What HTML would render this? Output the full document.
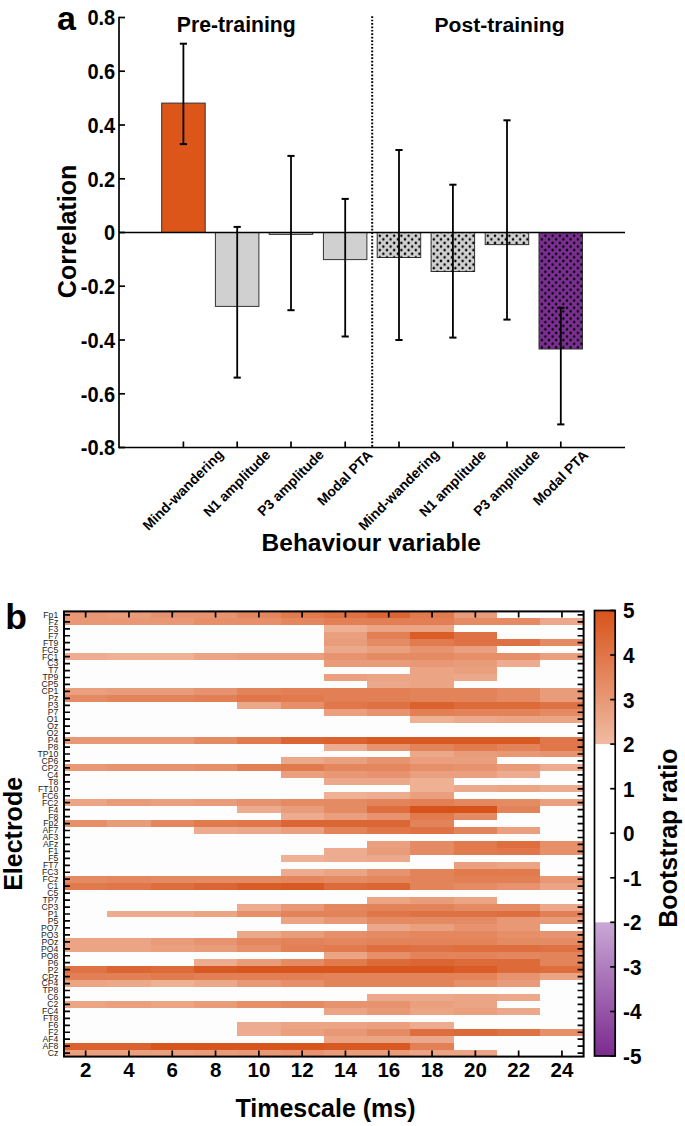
<!DOCTYPE html><html><head><meta charset="utf-8"><style>html,body{margin:0;padding:0;background:#fff;}svg{display:block;}</style></head><body><svg width="685" height="1126" viewBox="0 0 685 1126" font-family="'Liberation Sans', sans-serif">
<rect width="685" height="1126" fill="#ffffff"/>
<defs>
<pattern id="dots" patternUnits="userSpaceOnUse" width="7.2" height="7.2" x="0" y="0">
<circle cx="1.8" cy="1.8" r="1.25" fill="#000"/><circle cx="5.4" cy="5.4" r="1.25" fill="#000"/>
</pattern>
<linearGradient id="gO" x1="0" y1="1" x2="0" y2="0"><stop offset="0" stop-color="#f0bba2"/><stop offset="1" stop-color="#d8531b"/></linearGradient>
<linearGradient id="gP" x1="0" y1="0" x2="0" y2="1"><stop offset="0" stop-color="#c9a8d5"/><stop offset="1" stop-color="#7b2b8f"/></linearGradient>
</defs>
<rect x="161.7" y="103.1" width="43.5" height="129.4" fill="#dc5519" stroke="#333" stroke-width="1"/>
<rect x="215.4" y="232.5" width="43.5" height="73.9" fill="#d0d0d0" stroke="#333" stroke-width="1"/>
<rect x="269.2" y="232.5" width="43.5" height="1.9" fill="#d0d0d0" stroke="#333" stroke-width="1"/>
<rect x="323.4" y="232.5" width="43.5" height="27.1" fill="#d0d0d0" stroke="#333" stroke-width="1"/>
<rect x="377.2" y="232.5" width="43.5" height="25.0" fill="#d0d0d0" stroke="#333" stroke-width="1"/>
<rect x="377.2" y="232.5" width="43.5" height="25.0" fill="url(#dots)"/>
<rect x="431.1" y="232.5" width="43.5" height="39.0" fill="#d0d0d0" stroke="#333" stroke-width="1"/>
<rect x="431.1" y="232.5" width="43.5" height="39.0" fill="url(#dots)"/>
<rect x="485.2" y="232.5" width="43.5" height="12.1" fill="#d0d0d0" stroke="#333" stroke-width="1"/>
<rect x="485.2" y="232.5" width="43.5" height="12.1" fill="url(#dots)"/>
<rect x="539.0" y="232.5" width="43.5" height="116.5" fill="#7b2f92" stroke="#333" stroke-width="1"/>
<rect x="539.0" y="232.5" width="43.5" height="116.5" fill="url(#dots)"/>
<line x1="183.4" y1="43.7" x2="183.4" y2="144.1" stroke="#000" stroke-width="1.8"/>
<line x1="179.8" y1="43.7" x2="187.0" y2="43.7" stroke="#000" stroke-width="2"/>
<line x1="179.8" y1="144.1" x2="187.0" y2="144.1" stroke="#000" stroke-width="2"/>
<line x1="237.2" y1="226.9" x2="237.2" y2="377.6" stroke="#000" stroke-width="1.8"/>
<line x1="233.6" y1="226.9" x2="240.79999999999998" y2="226.9" stroke="#000" stroke-width="2"/>
<line x1="233.6" y1="377.6" x2="240.79999999999998" y2="377.6" stroke="#000" stroke-width="2"/>
<line x1="291.0" y1="155.9" x2="291.0" y2="310.2" stroke="#000" stroke-width="1.8"/>
<line x1="287.4" y1="155.9" x2="294.6" y2="155.9" stroke="#000" stroke-width="2"/>
<line x1="287.4" y1="310.2" x2="294.6" y2="310.2" stroke="#000" stroke-width="2"/>
<line x1="345.2" y1="198.9" x2="345.2" y2="336.5" stroke="#000" stroke-width="1.8"/>
<line x1="341.59999999999997" y1="198.9" x2="348.8" y2="198.9" stroke="#000" stroke-width="2"/>
<line x1="341.59999999999997" y1="336.5" x2="348.8" y2="336.5" stroke="#000" stroke-width="2"/>
<line x1="399.0" y1="150.0" x2="399.0" y2="340.0" stroke="#000" stroke-width="1.8"/>
<line x1="395.4" y1="150.0" x2="402.6" y2="150.0" stroke="#000" stroke-width="2"/>
<line x1="395.4" y1="340.0" x2="402.6" y2="340.0" stroke="#000" stroke-width="2"/>
<line x1="452.9" y1="184.7" x2="452.9" y2="337.6" stroke="#000" stroke-width="1.8"/>
<line x1="449.29999999999995" y1="184.7" x2="456.5" y2="184.7" stroke="#000" stroke-width="2"/>
<line x1="449.29999999999995" y1="337.6" x2="456.5" y2="337.6" stroke="#000" stroke-width="2"/>
<line x1="507.0" y1="120.3" x2="507.0" y2="319.6" stroke="#000" stroke-width="1.8"/>
<line x1="503.4" y1="120.3" x2="510.6" y2="120.3" stroke="#000" stroke-width="2"/>
<line x1="503.4" y1="319.6" x2="510.6" y2="319.6" stroke="#000" stroke-width="2"/>
<line x1="560.8" y1="307.8" x2="560.8" y2="424.4" stroke="#000" stroke-width="1.8"/>
<line x1="557.1999999999999" y1="307.8" x2="564.4" y2="307.8" stroke="#000" stroke-width="2"/>
<line x1="557.1999999999999" y1="424.4" x2="564.4" y2="424.4" stroke="#000" stroke-width="2"/>
<line x1="119.0" y1="16.7" x2="119.0" y2="448.3" stroke="#000" stroke-width="1.7"/>
<line x1="119.0" y1="17.5" x2="125.0" y2="17.5" stroke="#000" stroke-width="1.7"/>
<text transform="translate(115.2,25.3) scale(0.91,1)" font-size="22" font-weight="bold" text-anchor="end">0.8</text>
<line x1="119.0" y1="71.2" x2="125.0" y2="71.2" stroke="#000" stroke-width="1.7"/>
<text transform="translate(115.2,79.0) scale(0.91,1)" font-size="22" font-weight="bold" text-anchor="end">0.6</text>
<line x1="119.0" y1="125.0" x2="125.0" y2="125.0" stroke="#000" stroke-width="1.7"/>
<text transform="translate(115.2,132.8) scale(0.91,1)" font-size="22" font-weight="bold" text-anchor="end">0.4</text>
<line x1="119.0" y1="178.8" x2="125.0" y2="178.8" stroke="#000" stroke-width="1.7"/>
<text transform="translate(115.2,186.6) scale(0.91,1)" font-size="22" font-weight="bold" text-anchor="end">0.2</text>
<line x1="119.0" y1="232.5" x2="125.0" y2="232.5" stroke="#000" stroke-width="1.7"/>
<text transform="translate(115.2,240.3) scale(0.91,1)" font-size="22" font-weight="bold" text-anchor="end">0</text>
<line x1="119.0" y1="286.2" x2="125.0" y2="286.2" stroke="#000" stroke-width="1.7"/>
<text transform="translate(115.2,294.1) scale(0.91,1)" font-size="22" font-weight="bold" text-anchor="end">-0.2</text>
<line x1="119.0" y1="340.0" x2="125.0" y2="340.0" stroke="#000" stroke-width="1.7"/>
<text transform="translate(115.2,347.8) scale(0.91,1)" font-size="22" font-weight="bold" text-anchor="end">-0.4</text>
<line x1="119.0" y1="393.8" x2="125.0" y2="393.8" stroke="#000" stroke-width="1.7"/>
<text transform="translate(115.2,401.6) scale(0.91,1)" font-size="22" font-weight="bold" text-anchor="end">-0.6</text>
<line x1="119.0" y1="447.5" x2="125.0" y2="447.5" stroke="#000" stroke-width="1.7"/>
<text transform="translate(115.2,455.3) scale(0.91,1)" font-size="22" font-weight="bold" text-anchor="end">-0.8</text>
<line x1="119.0" y1="232.5" x2="625.0" y2="232.5" stroke="#000" stroke-width="1.7"/>
<line x1="119.0" y1="447.5" x2="625.0" y2="447.5" stroke="#000" stroke-width="1.7"/>
<line x1="183.4" y1="447.5" x2="183.4" y2="441.5" stroke="#000" stroke-width="1.7"/>
<line x1="237.2" y1="447.5" x2="237.2" y2="441.5" stroke="#000" stroke-width="1.7"/>
<line x1="291.0" y1="447.5" x2="291.0" y2="441.5" stroke="#000" stroke-width="1.7"/>
<line x1="345.2" y1="447.5" x2="345.2" y2="441.5" stroke="#000" stroke-width="1.7"/>
<line x1="399.0" y1="447.5" x2="399.0" y2="441.5" stroke="#000" stroke-width="1.7"/>
<line x1="452.9" y1="447.5" x2="452.9" y2="441.5" stroke="#000" stroke-width="1.7"/>
<line x1="507.0" y1="447.5" x2="507.0" y2="441.5" stroke="#000" stroke-width="1.7"/>
<line x1="560.8" y1="447.5" x2="560.8" y2="441.5" stroke="#000" stroke-width="1.7"/>
<line x1="372.2" y1="16.2" x2="372.2" y2="447.5" stroke="#000" stroke-width="2" stroke-dasharray="1.7 1.73"/>
<text transform="translate(182.9,489.7) rotate(-45)" font-size="14" font-weight="bold" text-anchor="middle" dy="0.36em">Mind-wandering</text>
<text transform="translate(236.7,483.2) rotate(-45)" font-size="14" font-weight="bold" text-anchor="middle" dy="0.36em">N1 amplitude</text>
<text transform="translate(290.5,482.7) rotate(-45)" font-size="14" font-weight="bold" text-anchor="middle" dy="0.36em">P3 amplitude</text>
<text transform="translate(344.7,477.7) rotate(-45)" font-size="14" font-weight="bold" text-anchor="middle" dy="0.36em">Modal PTA</text>
<text transform="translate(398.5,489.7) rotate(-45)" font-size="14" font-weight="bold" text-anchor="middle" dy="0.36em">Mind-wandering</text>
<text transform="translate(452.4,483.2) rotate(-45)" font-size="14" font-weight="bold" text-anchor="middle" dy="0.36em">N1 amplitude</text>
<text transform="translate(506.5,482.7) rotate(-45)" font-size="14" font-weight="bold" text-anchor="middle" dy="0.36em">P3 amplitude</text>
<text transform="translate(560.3,477.7) rotate(-45)" font-size="14" font-weight="bold" text-anchor="middle" dy="0.36em">Modal PTA</text>
<text x="57" y="30" font-size="34" font-weight="bold">a</text>
<text x="236.3" y="32.3" font-size="21.2" font-weight="bold" text-anchor="middle">Pre-training</text>
<text x="499.5" y="32.3" font-size="21.1" font-weight="bold" text-anchor="middle">Post-training</text>
<text transform="translate(76.4,231.5) rotate(-90)" font-size="25" font-weight="bold" text-anchor="middle">Correlation</text>
<text x="371.2" y="551" font-size="24.5" font-weight="bold" text-anchor="middle">Behaviour variable</text>
<g shape-rendering="crispEdges"><rect x="64.00" y="611.40" width="43.70" height="7.36" fill="#e89874"/><rect x="107.30" y="611.40" width="43.70" height="7.36" fill="#e99c7a"/><rect x="150.60" y="611.40" width="43.70" height="7.36" fill="#e7936f"/><rect x="193.90" y="611.40" width="43.70" height="7.36" fill="#e7936f"/><rect x="237.20" y="611.40" width="43.70" height="7.36" fill="#e4875e"/><rect x="280.50" y="611.40" width="43.70" height="7.36" fill="#e17b4e"/><rect x="323.80" y="611.40" width="43.70" height="7.36" fill="#df7244"/><rect x="367.10" y="611.40" width="43.70" height="7.36" fill="#dc6633"/><rect x="410.40" y="611.40" width="43.70" height="7.36" fill="#e17b4e"/><rect x="453.70" y="611.40" width="43.70" height="7.36" fill="#e99c7a"/><rect x="497.00" y="611.40" width="43.70" height="7.36" fill="#fdfdfd"/><rect x="540.30" y="611.40" width="43.70" height="7.36" fill="#fdfdfd"/><rect x="64.00" y="618.36" width="43.70" height="7.36" fill="#e89874"/><rect x="107.30" y="618.36" width="43.70" height="7.36" fill="#e89874"/><rect x="150.60" y="618.36" width="43.70" height="7.36" fill="#e89874"/><rect x="193.90" y="618.36" width="43.70" height="7.36" fill="#e68f69"/><rect x="237.20" y="618.36" width="43.70" height="7.36" fill="#e68f69"/><rect x="280.50" y="618.36" width="43.70" height="7.36" fill="#e4875e"/><rect x="323.80" y="618.36" width="43.70" height="7.36" fill="#e27f54"/><rect x="367.10" y="618.36" width="43.70" height="7.36" fill="#e27f54"/><rect x="410.40" y="618.36" width="43.70" height="7.36" fill="#e27f54"/><rect x="453.70" y="618.36" width="43.70" height="7.36" fill="#e58b64"/><rect x="497.00" y="618.36" width="43.70" height="7.36" fill="#e58b64"/><rect x="540.30" y="618.36" width="43.70" height="7.36" fill="#eca88a"/><rect x="64.00" y="625.31" width="43.70" height="7.36" fill="#fdfdfd"/><rect x="107.30" y="625.31" width="43.70" height="7.36" fill="#fdfdfd"/><rect x="150.60" y="625.31" width="43.70" height="7.36" fill="#fdfdfd"/><rect x="193.90" y="625.31" width="43.70" height="7.36" fill="#fdfdfd"/><rect x="237.20" y="625.31" width="43.70" height="7.36" fill="#fdfdfd"/><rect x="280.50" y="625.31" width="43.70" height="7.36" fill="#fdfdfd"/><rect x="323.80" y="625.31" width="43.70" height="7.36" fill="#eeb194"/><rect x="367.10" y="625.31" width="43.70" height="7.36" fill="#eba484"/><rect x="410.40" y="625.31" width="43.70" height="7.36" fill="#eba484"/><rect x="453.70" y="625.31" width="43.70" height="7.36" fill="#fdfdfd"/><rect x="497.00" y="625.31" width="43.70" height="7.36" fill="#fdfdfd"/><rect x="540.30" y="625.31" width="43.70" height="7.36" fill="#fdfdfd"/><rect x="64.00" y="632.27" width="43.70" height="7.36" fill="#fdfdfd"/><rect x="107.30" y="632.27" width="43.70" height="7.36" fill="#fdfdfd"/><rect x="150.60" y="632.27" width="43.70" height="7.36" fill="#fdfdfd"/><rect x="193.90" y="632.27" width="43.70" height="7.36" fill="#fdfdfd"/><rect x="237.20" y="632.27" width="43.70" height="7.36" fill="#fdfdfd"/><rect x="280.50" y="632.27" width="43.70" height="7.36" fill="#fdfdfd"/><rect x="323.80" y="632.27" width="43.70" height="7.36" fill="#eaa07f"/><rect x="367.10" y="632.27" width="43.70" height="7.36" fill="#e27f54"/><rect x="410.40" y="632.27" width="43.70" height="7.36" fill="#da5d28"/><rect x="453.70" y="632.27" width="43.70" height="7.36" fill="#df7244"/><rect x="497.00" y="632.27" width="43.70" height="7.36" fill="#fdfdfd"/><rect x="540.30" y="632.27" width="43.70" height="7.36" fill="#fdfdfd"/><rect x="64.00" y="639.23" width="43.70" height="7.36" fill="#fdfdfd"/><rect x="107.30" y="639.23" width="43.70" height="7.36" fill="#fdfdfd"/><rect x="150.60" y="639.23" width="43.70" height="7.36" fill="#fdfdfd"/><rect x="193.90" y="639.23" width="43.70" height="7.36" fill="#fdfdfd"/><rect x="237.20" y="639.23" width="43.70" height="7.36" fill="#fdfdfd"/><rect x="280.50" y="639.23" width="43.70" height="7.36" fill="#fdfdfd"/><rect x="323.80" y="639.23" width="43.70" height="7.36" fill="#e99c7a"/><rect x="367.10" y="639.23" width="43.70" height="7.36" fill="#e58b64"/><rect x="410.40" y="639.23" width="43.70" height="7.36" fill="#e17b4e"/><rect x="453.70" y="639.23" width="43.70" height="7.36" fill="#df7244"/><rect x="497.00" y="639.23" width="43.70" height="7.36" fill="#df7244"/><rect x="540.30" y="639.23" width="43.70" height="7.36" fill="#e58b64"/><rect x="64.00" y="646.18" width="43.70" height="7.36" fill="#fdfdfd"/><rect x="107.30" y="646.18" width="43.70" height="7.36" fill="#fdfdfd"/><rect x="150.60" y="646.18" width="43.70" height="7.36" fill="#fdfdfd"/><rect x="193.90" y="646.18" width="43.70" height="7.36" fill="#fdfdfd"/><rect x="237.20" y="646.18" width="43.70" height="7.36" fill="#fdfdfd"/><rect x="280.50" y="646.18" width="43.70" height="7.36" fill="#fdfdfd"/><rect x="323.80" y="646.18" width="43.70" height="7.36" fill="#eca88a"/><rect x="367.10" y="646.18" width="43.70" height="7.36" fill="#eaa07f"/><rect x="410.40" y="646.18" width="43.70" height="7.36" fill="#e7936f"/><rect x="453.70" y="646.18" width="43.70" height="7.36" fill="#eaa07f"/><rect x="497.00" y="646.18" width="43.70" height="7.36" fill="#fdfdfd"/><rect x="540.30" y="646.18" width="43.70" height="7.36" fill="#fdfdfd"/><rect x="64.00" y="653.14" width="43.70" height="7.36" fill="#edac8f"/><rect x="107.30" y="653.14" width="43.70" height="7.36" fill="#eeb194"/><rect x="150.60" y="653.14" width="43.70" height="7.36" fill="#eeb194"/><rect x="193.90" y="653.14" width="43.70" height="7.36" fill="#eba484"/><rect x="237.20" y="653.14" width="43.70" height="7.36" fill="#eaa07f"/><rect x="280.50" y="653.14" width="43.70" height="7.36" fill="#eaa07f"/><rect x="323.80" y="653.14" width="43.70" height="7.36" fill="#e7936f"/><rect x="367.10" y="653.14" width="43.70" height="7.36" fill="#e58b64"/><rect x="410.40" y="653.14" width="43.70" height="7.36" fill="#e58b64"/><rect x="453.70" y="653.14" width="43.70" height="7.36" fill="#e68f69"/><rect x="497.00" y="653.14" width="43.70" height="7.36" fill="#e68f69"/><rect x="540.30" y="653.14" width="43.70" height="7.36" fill="#eaa07f"/><rect x="64.00" y="660.09" width="43.70" height="7.36" fill="#fdfdfd"/><rect x="107.30" y="660.09" width="43.70" height="7.36" fill="#fdfdfd"/><rect x="150.60" y="660.09" width="43.70" height="7.36" fill="#fdfdfd"/><rect x="193.90" y="660.09" width="43.70" height="7.36" fill="#fdfdfd"/><rect x="237.20" y="660.09" width="43.70" height="7.36" fill="#fdfdfd"/><rect x="280.50" y="660.09" width="43.70" height="7.36" fill="#fdfdfd"/><rect x="323.80" y="660.09" width="43.70" height="7.36" fill="#e99c7a"/><rect x="367.10" y="660.09" width="43.70" height="7.36" fill="#e99c7a"/><rect x="410.40" y="660.09" width="43.70" height="7.36" fill="#e89874"/><rect x="453.70" y="660.09" width="43.70" height="7.36" fill="#e99c7a"/><rect x="497.00" y="660.09" width="43.70" height="7.36" fill="#edac8f"/><rect x="540.30" y="660.09" width="43.70" height="7.36" fill="#fdfdfd"/><rect x="64.00" y="667.05" width="43.70" height="7.36" fill="#fdfdfd"/><rect x="107.30" y="667.05" width="43.70" height="7.36" fill="#fdfdfd"/><rect x="150.60" y="667.05" width="43.70" height="7.36" fill="#fdfdfd"/><rect x="193.90" y="667.05" width="43.70" height="7.36" fill="#fdfdfd"/><rect x="237.20" y="667.05" width="43.70" height="7.36" fill="#fdfdfd"/><rect x="280.50" y="667.05" width="43.70" height="7.36" fill="#fdfdfd"/><rect x="323.80" y="667.05" width="43.70" height="7.36" fill="#fdfdfd"/><rect x="367.10" y="667.05" width="43.70" height="7.36" fill="#fdfdfd"/><rect x="410.40" y="667.05" width="43.70" height="7.36" fill="#eba484"/><rect x="453.70" y="667.05" width="43.70" height="7.36" fill="#eaa07f"/><rect x="497.00" y="667.05" width="43.70" height="7.36" fill="#fdfdfd"/><rect x="540.30" y="667.05" width="43.70" height="7.36" fill="#fdfdfd"/><rect x="64.00" y="674.01" width="43.70" height="7.36" fill="#fdfdfd"/><rect x="107.30" y="674.01" width="43.70" height="7.36" fill="#fdfdfd"/><rect x="150.60" y="674.01" width="43.70" height="7.36" fill="#fdfdfd"/><rect x="193.90" y="674.01" width="43.70" height="7.36" fill="#fdfdfd"/><rect x="237.20" y="674.01" width="43.70" height="7.36" fill="#fdfdfd"/><rect x="280.50" y="674.01" width="43.70" height="7.36" fill="#fdfdfd"/><rect x="323.80" y="674.01" width="43.70" height="7.36" fill="#eaa07f"/><rect x="367.10" y="674.01" width="43.70" height="7.36" fill="#eba484"/><rect x="410.40" y="674.01" width="43.70" height="7.36" fill="#eba484"/><rect x="453.70" y="674.01" width="43.70" height="7.36" fill="#eca88a"/><rect x="497.00" y="674.01" width="43.70" height="7.36" fill="#fdfdfd"/><rect x="540.30" y="674.01" width="43.70" height="7.36" fill="#fdfdfd"/><rect x="64.00" y="680.96" width="43.70" height="7.36" fill="#fdfdfd"/><rect x="107.30" y="680.96" width="43.70" height="7.36" fill="#fdfdfd"/><rect x="150.60" y="680.96" width="43.70" height="7.36" fill="#fdfdfd"/><rect x="193.90" y="680.96" width="43.70" height="7.36" fill="#fdfdfd"/><rect x="237.20" y="680.96" width="43.70" height="7.36" fill="#fdfdfd"/><rect x="280.50" y="680.96" width="43.70" height="7.36" fill="#fdfdfd"/><rect x="323.80" y="680.96" width="43.70" height="7.36" fill="#fdfdfd"/><rect x="367.10" y="680.96" width="43.70" height="7.36" fill="#eca88a"/><rect x="410.40" y="680.96" width="43.70" height="7.36" fill="#eba484"/><rect x="453.70" y="680.96" width="43.70" height="7.36" fill="#fdfdfd"/><rect x="497.00" y="680.96" width="43.70" height="7.36" fill="#fdfdfd"/><rect x="540.30" y="680.96" width="43.70" height="7.36" fill="#fdfdfd"/><rect x="64.00" y="687.92" width="43.70" height="7.36" fill="#eaa07f"/><rect x="107.30" y="687.92" width="43.70" height="7.36" fill="#e99c7a"/><rect x="150.60" y="687.92" width="43.70" height="7.36" fill="#e99c7a"/><rect x="193.90" y="687.92" width="43.70" height="7.36" fill="#e7936f"/><rect x="237.20" y="687.92" width="43.70" height="7.36" fill="#e38359"/><rect x="280.50" y="687.92" width="43.70" height="7.36" fill="#e27f54"/><rect x="323.80" y="687.92" width="43.70" height="7.36" fill="#e27f54"/><rect x="367.10" y="687.92" width="43.70" height="7.36" fill="#e27f54"/><rect x="410.40" y="687.92" width="43.70" height="7.36" fill="#e38359"/><rect x="453.70" y="687.92" width="43.70" height="7.36" fill="#e38359"/><rect x="497.00" y="687.92" width="43.70" height="7.36" fill="#e58b64"/><rect x="540.30" y="687.92" width="43.70" height="7.36" fill="#e99c7a"/><rect x="64.00" y="694.88" width="43.70" height="7.36" fill="#e58b64"/><rect x="107.30" y="694.88" width="43.70" height="7.36" fill="#e38359"/><rect x="150.60" y="694.88" width="43.70" height="7.36" fill="#e38359"/><rect x="193.90" y="694.88" width="43.70" height="7.36" fill="#e27f54"/><rect x="237.20" y="694.88" width="43.70" height="7.36" fill="#e07649"/><rect x="280.50" y="694.88" width="43.70" height="7.36" fill="#e17b4e"/><rect x="323.80" y="694.88" width="43.70" height="7.36" fill="#e27f54"/><rect x="367.10" y="694.88" width="43.70" height="7.36" fill="#e27f54"/><rect x="410.40" y="694.88" width="43.70" height="7.36" fill="#e38359"/><rect x="453.70" y="694.88" width="43.70" height="7.36" fill="#e38359"/><rect x="497.00" y="694.88" width="43.70" height="7.36" fill="#e58b64"/><rect x="540.30" y="694.88" width="43.70" height="7.36" fill="#e99c7a"/><rect x="64.00" y="701.83" width="43.70" height="7.36" fill="#fdfdfd"/><rect x="107.30" y="701.83" width="43.70" height="7.36" fill="#fdfdfd"/><rect x="150.60" y="701.83" width="43.70" height="7.36" fill="#fdfdfd"/><rect x="193.90" y="701.83" width="43.70" height="7.36" fill="#fdfdfd"/><rect x="237.20" y="701.83" width="43.70" height="7.36" fill="#eca88a"/><rect x="280.50" y="701.83" width="43.70" height="7.36" fill="#e68f69"/><rect x="323.80" y="701.83" width="43.70" height="7.36" fill="#e07649"/><rect x="367.10" y="701.83" width="43.70" height="7.36" fill="#df7244"/><rect x="410.40" y="701.83" width="43.70" height="7.36" fill="#db622e"/><rect x="453.70" y="701.83" width="43.70" height="7.36" fill="#dd6a39"/><rect x="497.00" y="701.83" width="43.70" height="7.36" fill="#dd6a39"/><rect x="540.30" y="701.83" width="43.70" height="7.36" fill="#df7244"/><rect x="64.00" y="708.79" width="43.70" height="7.36" fill="#fdfdfd"/><rect x="107.30" y="708.79" width="43.70" height="7.36" fill="#fdfdfd"/><rect x="150.60" y="708.79" width="43.70" height="7.36" fill="#fdfdfd"/><rect x="193.90" y="708.79" width="43.70" height="7.36" fill="#fdfdfd"/><rect x="237.20" y="708.79" width="43.70" height="7.36" fill="#fdfdfd"/><rect x="280.50" y="708.79" width="43.70" height="7.36" fill="#fdfdfd"/><rect x="323.80" y="708.79" width="43.70" height="7.36" fill="#eaa07f"/><rect x="367.10" y="708.79" width="43.70" height="7.36" fill="#e7936f"/><rect x="410.40" y="708.79" width="43.70" height="7.36" fill="#e27f54"/><rect x="453.70" y="708.79" width="43.70" height="7.36" fill="#e38359"/><rect x="497.00" y="708.79" width="43.70" height="7.36" fill="#e38359"/><rect x="540.30" y="708.79" width="43.70" height="7.36" fill="#e58b64"/><rect x="64.00" y="715.74" width="43.70" height="7.36" fill="#fdfdfd"/><rect x="107.30" y="715.74" width="43.70" height="7.36" fill="#fdfdfd"/><rect x="150.60" y="715.74" width="43.70" height="7.36" fill="#fdfdfd"/><rect x="193.90" y="715.74" width="43.70" height="7.36" fill="#fdfdfd"/><rect x="237.20" y="715.74" width="43.70" height="7.36" fill="#fdfdfd"/><rect x="280.50" y="715.74" width="43.70" height="7.36" fill="#fdfdfd"/><rect x="323.80" y="715.74" width="43.70" height="7.36" fill="#fdfdfd"/><rect x="367.10" y="715.74" width="43.70" height="7.36" fill="#fdfdfd"/><rect x="410.40" y="715.74" width="43.70" height="7.36" fill="#eeb194"/><rect x="453.70" y="715.74" width="43.70" height="7.36" fill="#eca88a"/><rect x="497.00" y="715.74" width="43.70" height="7.36" fill="#eba484"/><rect x="540.30" y="715.74" width="43.70" height="7.36" fill="#eba484"/><rect x="64.00" y="722.70" width="43.70" height="7.36" fill="#fdfdfd"/><rect x="107.30" y="722.70" width="43.70" height="7.36" fill="#fdfdfd"/><rect x="150.60" y="722.70" width="43.70" height="7.36" fill="#fdfdfd"/><rect x="193.90" y="722.70" width="43.70" height="7.36" fill="#fdfdfd"/><rect x="237.20" y="722.70" width="43.70" height="7.36" fill="#fdfdfd"/><rect x="280.50" y="722.70" width="43.70" height="7.36" fill="#fdfdfd"/><rect x="323.80" y="722.70" width="43.70" height="7.36" fill="#fdfdfd"/><rect x="367.10" y="722.70" width="43.70" height="7.36" fill="#fdfdfd"/><rect x="410.40" y="722.70" width="43.70" height="7.36" fill="#fdfdfd"/><rect x="453.70" y="722.70" width="43.70" height="7.36" fill="#fdfdfd"/><rect x="497.00" y="722.70" width="43.70" height="7.36" fill="#fdfdfd"/><rect x="540.30" y="722.70" width="43.70" height="7.36" fill="#fdfdfd"/><rect x="64.00" y="729.66" width="43.70" height="7.36" fill="#fdfdfd"/><rect x="107.30" y="729.66" width="43.70" height="7.36" fill="#fdfdfd"/><rect x="150.60" y="729.66" width="43.70" height="7.36" fill="#fdfdfd"/><rect x="193.90" y="729.66" width="43.70" height="7.36" fill="#fdfdfd"/><rect x="237.20" y="729.66" width="43.70" height="7.36" fill="#fdfdfd"/><rect x="280.50" y="729.66" width="43.70" height="7.36" fill="#fdfdfd"/><rect x="323.80" y="729.66" width="43.70" height="7.36" fill="#fdfdfd"/><rect x="367.10" y="729.66" width="43.70" height="7.36" fill="#fdfdfd"/><rect x="410.40" y="729.66" width="43.70" height="7.36" fill="#fdfdfd"/><rect x="453.70" y="729.66" width="43.70" height="7.36" fill="#fdfdfd"/><rect x="497.00" y="729.66" width="43.70" height="7.36" fill="#fdfdfd"/><rect x="540.30" y="729.66" width="43.70" height="7.36" fill="#fdfdfd"/><rect x="64.00" y="736.61" width="43.70" height="7.36" fill="#e89874"/><rect x="107.30" y="736.61" width="43.70" height="7.36" fill="#e89874"/><rect x="150.60" y="736.61" width="43.70" height="7.36" fill="#e89874"/><rect x="193.90" y="736.61" width="43.70" height="7.36" fill="#e58b64"/><rect x="237.20" y="736.61" width="43.70" height="7.36" fill="#e17b4e"/><rect x="280.50" y="736.61" width="43.70" height="7.36" fill="#dc6633"/><rect x="323.80" y="736.61" width="43.70" height="7.36" fill="#db622e"/><rect x="367.10" y="736.61" width="43.70" height="7.36" fill="#d95923"/><rect x="410.40" y="736.61" width="43.70" height="7.36" fill="#d95923"/><rect x="453.70" y="736.61" width="43.70" height="7.36" fill="#d95923"/><rect x="497.00" y="736.61" width="43.70" height="7.36" fill="#d95923"/><rect x="540.30" y="736.61" width="43.70" height="7.36" fill="#e07649"/><rect x="64.00" y="743.57" width="43.70" height="7.36" fill="#fdfdfd"/><rect x="107.30" y="743.57" width="43.70" height="7.36" fill="#fdfdfd"/><rect x="150.60" y="743.57" width="43.70" height="7.36" fill="#fdfdfd"/><rect x="193.90" y="743.57" width="43.70" height="7.36" fill="#fdfdfd"/><rect x="237.20" y="743.57" width="43.70" height="7.36" fill="#fdfdfd"/><rect x="280.50" y="743.57" width="43.70" height="7.36" fill="#fdfdfd"/><rect x="323.80" y="743.57" width="43.70" height="7.36" fill="#edac8f"/><rect x="367.10" y="743.57" width="43.70" height="7.36" fill="#e7936f"/><rect x="410.40" y="743.57" width="43.70" height="7.36" fill="#e38359"/><rect x="453.70" y="743.57" width="43.70" height="7.36" fill="#e17b4e"/><rect x="497.00" y="743.57" width="43.70" height="7.36" fill="#e38359"/><rect x="540.30" y="743.57" width="43.70" height="7.36" fill="#e07649"/><rect x="64.00" y="750.52" width="43.70" height="7.36" fill="#fdfdfd"/><rect x="107.30" y="750.52" width="43.70" height="7.36" fill="#fdfdfd"/><rect x="150.60" y="750.52" width="43.70" height="7.36" fill="#fdfdfd"/><rect x="193.90" y="750.52" width="43.70" height="7.36" fill="#fdfdfd"/><rect x="237.20" y="750.52" width="43.70" height="7.36" fill="#fdfdfd"/><rect x="280.50" y="750.52" width="43.70" height="7.36" fill="#fdfdfd"/><rect x="323.80" y="750.52" width="43.70" height="7.36" fill="#fdfdfd"/><rect x="367.10" y="750.52" width="43.70" height="7.36" fill="#fdfdfd"/><rect x="410.40" y="750.52" width="43.70" height="7.36" fill="#eca88a"/><rect x="453.70" y="750.52" width="43.70" height="7.36" fill="#e99c7a"/><rect x="497.00" y="750.52" width="43.70" height="7.36" fill="#e89874"/><rect x="540.30" y="750.52" width="43.70" height="7.36" fill="#e7936f"/><rect x="64.00" y="757.48" width="43.70" height="7.36" fill="#fdfdfd"/><rect x="107.30" y="757.48" width="43.70" height="7.36" fill="#fdfdfd"/><rect x="150.60" y="757.48" width="43.70" height="7.36" fill="#fdfdfd"/><rect x="193.90" y="757.48" width="43.70" height="7.36" fill="#fdfdfd"/><rect x="237.20" y="757.48" width="43.70" height="7.36" fill="#fdfdfd"/><rect x="280.50" y="757.48" width="43.70" height="7.36" fill="#eca88a"/><rect x="323.80" y="757.48" width="43.70" height="7.36" fill="#eaa07f"/><rect x="367.10" y="757.48" width="43.70" height="7.36" fill="#e7936f"/><rect x="410.40" y="757.48" width="43.70" height="7.36" fill="#eaa07f"/><rect x="453.70" y="757.48" width="43.70" height="7.36" fill="#eaa07f"/><rect x="497.00" y="757.48" width="43.70" height="7.36" fill="#fdfdfd"/><rect x="540.30" y="757.48" width="43.70" height="7.36" fill="#fdfdfd"/><rect x="64.00" y="764.44" width="43.70" height="7.36" fill="#e89874"/><rect x="107.30" y="764.44" width="43.70" height="7.36" fill="#e7936f"/><rect x="150.60" y="764.44" width="43.70" height="7.36" fill="#e7936f"/><rect x="193.90" y="764.44" width="43.70" height="7.36" fill="#e68f69"/><rect x="237.20" y="764.44" width="43.70" height="7.36" fill="#e27f54"/><rect x="280.50" y="764.44" width="43.70" height="7.36" fill="#e17b4e"/><rect x="323.80" y="764.44" width="43.70" height="7.36" fill="#e4875e"/><rect x="367.10" y="764.44" width="43.70" height="7.36" fill="#e4875e"/><rect x="410.40" y="764.44" width="43.70" height="7.36" fill="#e68f69"/><rect x="453.70" y="764.44" width="43.70" height="7.36" fill="#e7936f"/><rect x="497.00" y="764.44" width="43.70" height="7.36" fill="#e99c7a"/><rect x="540.30" y="764.44" width="43.70" height="7.36" fill="#edac8f"/><rect x="64.00" y="771.39" width="43.70" height="7.36" fill="#fdfdfd"/><rect x="107.30" y="771.39" width="43.70" height="7.36" fill="#fdfdfd"/><rect x="150.60" y="771.39" width="43.70" height="7.36" fill="#fdfdfd"/><rect x="193.90" y="771.39" width="43.70" height="7.36" fill="#fdfdfd"/><rect x="237.20" y="771.39" width="43.70" height="7.36" fill="#fdfdfd"/><rect x="280.50" y="771.39" width="43.70" height="7.36" fill="#eaa07f"/><rect x="323.80" y="771.39" width="43.70" height="7.36" fill="#e89874"/><rect x="367.10" y="771.39" width="43.70" height="7.36" fill="#e7936f"/><rect x="410.40" y="771.39" width="43.70" height="7.36" fill="#eaa07f"/><rect x="453.70" y="771.39" width="43.70" height="7.36" fill="#eaa07f"/><rect x="497.00" y="771.39" width="43.70" height="7.36" fill="#edac8f"/><rect x="540.30" y="771.39" width="43.70" height="7.36" fill="#fdfdfd"/><rect x="64.00" y="778.35" width="43.70" height="7.36" fill="#fdfdfd"/><rect x="107.30" y="778.35" width="43.70" height="7.36" fill="#fdfdfd"/><rect x="150.60" y="778.35" width="43.70" height="7.36" fill="#fdfdfd"/><rect x="193.90" y="778.35" width="43.70" height="7.36" fill="#fdfdfd"/><rect x="237.20" y="778.35" width="43.70" height="7.36" fill="#fdfdfd"/><rect x="280.50" y="778.35" width="43.70" height="7.36" fill="#fdfdfd"/><rect x="323.80" y="778.35" width="43.70" height="7.36" fill="#eca88a"/><rect x="367.10" y="778.35" width="43.70" height="7.36" fill="#eca88a"/><rect x="410.40" y="778.35" width="43.70" height="7.36" fill="#eeb194"/><rect x="453.70" y="778.35" width="43.70" height="7.36" fill="#fdfdfd"/><rect x="497.00" y="778.35" width="43.70" height="7.36" fill="#fdfdfd"/><rect x="540.30" y="778.35" width="43.70" height="7.36" fill="#fdfdfd"/><rect x="64.00" y="785.31" width="43.70" height="7.36" fill="#fdfdfd"/><rect x="107.30" y="785.31" width="43.70" height="7.36" fill="#fdfdfd"/><rect x="150.60" y="785.31" width="43.70" height="7.36" fill="#fdfdfd"/><rect x="193.90" y="785.31" width="43.70" height="7.36" fill="#fdfdfd"/><rect x="237.20" y="785.31" width="43.70" height="7.36" fill="#fdfdfd"/><rect x="280.50" y="785.31" width="43.70" height="7.36" fill="#fdfdfd"/><rect x="323.80" y="785.31" width="43.70" height="7.36" fill="#fdfdfd"/><rect x="367.10" y="785.31" width="43.70" height="7.36" fill="#fdfdfd"/><rect x="410.40" y="785.31" width="43.70" height="7.36" fill="#eeb194"/><rect x="453.70" y="785.31" width="43.70" height="7.36" fill="#eca88a"/><rect x="497.00" y="785.31" width="43.70" height="7.36" fill="#eba484"/><rect x="540.30" y="785.31" width="43.70" height="7.36" fill="#edac8f"/><rect x="64.00" y="792.26" width="43.70" height="7.36" fill="#fdfdfd"/><rect x="107.30" y="792.26" width="43.70" height="7.36" fill="#fdfdfd"/><rect x="150.60" y="792.26" width="43.70" height="7.36" fill="#fdfdfd"/><rect x="193.90" y="792.26" width="43.70" height="7.36" fill="#fdfdfd"/><rect x="237.20" y="792.26" width="43.70" height="7.36" fill="#fdfdfd"/><rect x="280.50" y="792.26" width="43.70" height="7.36" fill="#fdfdfd"/><rect x="323.80" y="792.26" width="43.70" height="7.36" fill="#eeb194"/><rect x="367.10" y="792.26" width="43.70" height="7.36" fill="#edac8f"/><rect x="410.40" y="792.26" width="43.70" height="7.36" fill="#eaa07f"/><rect x="453.70" y="792.26" width="43.70" height="7.36" fill="#fdfdfd"/><rect x="497.00" y="792.26" width="43.70" height="7.36" fill="#fdfdfd"/><rect x="540.30" y="792.26" width="43.70" height="7.36" fill="#fdfdfd"/><rect x="64.00" y="799.22" width="43.70" height="7.36" fill="#eba484"/><rect x="107.30" y="799.22" width="43.70" height="7.36" fill="#e99c7a"/><rect x="150.60" y="799.22" width="43.70" height="7.36" fill="#eaa07f"/><rect x="193.90" y="799.22" width="43.70" height="7.36" fill="#e99c7a"/><rect x="237.20" y="799.22" width="43.70" height="7.36" fill="#e7936f"/><rect x="280.50" y="799.22" width="43.70" height="7.36" fill="#e58b64"/><rect x="323.80" y="799.22" width="43.70" height="7.36" fill="#e58b64"/><rect x="367.10" y="799.22" width="43.70" height="7.36" fill="#e38359"/><rect x="410.40" y="799.22" width="43.70" height="7.36" fill="#e27f54"/><rect x="453.70" y="799.22" width="43.70" height="7.36" fill="#e4875e"/><rect x="497.00" y="799.22" width="43.70" height="7.36" fill="#e58b64"/><rect x="540.30" y="799.22" width="43.70" height="7.36" fill="#eaa07f"/><rect x="64.00" y="806.17" width="43.70" height="7.36" fill="#fdfdfd"/><rect x="107.30" y="806.17" width="43.70" height="7.36" fill="#fdfdfd"/><rect x="150.60" y="806.17" width="43.70" height="7.36" fill="#fdfdfd"/><rect x="193.90" y="806.17" width="43.70" height="7.36" fill="#fdfdfd"/><rect x="237.20" y="806.17" width="43.70" height="7.36" fill="#edac8f"/><rect x="280.50" y="806.17" width="43.70" height="7.36" fill="#e99c7a"/><rect x="323.80" y="806.17" width="43.70" height="7.36" fill="#e58b64"/><rect x="367.10" y="806.17" width="43.70" height="7.36" fill="#de6e3e"/><rect x="410.40" y="806.17" width="43.70" height="7.36" fill="#d8531b"/><rect x="453.70" y="806.17" width="43.70" height="7.36" fill="#d8531b"/><rect x="497.00" y="806.17" width="43.70" height="7.36" fill="#e38359"/><rect x="540.30" y="806.17" width="43.70" height="7.36" fill="#fdfdfd"/><rect x="64.00" y="813.13" width="43.70" height="7.36" fill="#fdfdfd"/><rect x="107.30" y="813.13" width="43.70" height="7.36" fill="#fdfdfd"/><rect x="150.60" y="813.13" width="43.70" height="7.36" fill="#fdfdfd"/><rect x="193.90" y="813.13" width="43.70" height="7.36" fill="#fdfdfd"/><rect x="237.20" y="813.13" width="43.70" height="7.36" fill="#fdfdfd"/><rect x="280.50" y="813.13" width="43.70" height="7.36" fill="#edac8f"/><rect x="323.80" y="813.13" width="43.70" height="7.36" fill="#eaa07f"/><rect x="367.10" y="813.13" width="43.70" height="7.36" fill="#e7936f"/><rect x="410.40" y="813.13" width="43.70" height="7.36" fill="#e17b4e"/><rect x="453.70" y="813.13" width="43.70" height="7.36" fill="#e58b64"/><rect x="497.00" y="813.13" width="43.70" height="7.36" fill="#fdfdfd"/><rect x="540.30" y="813.13" width="43.70" height="7.36" fill="#fdfdfd"/><rect x="64.00" y="820.09" width="43.70" height="7.36" fill="#e68f69"/><rect x="107.30" y="820.09" width="43.70" height="7.36" fill="#e99c7a"/><rect x="150.60" y="820.09" width="43.70" height="7.36" fill="#e4875e"/><rect x="193.90" y="820.09" width="43.70" height="7.36" fill="#e17b4e"/><rect x="237.20" y="820.09" width="43.70" height="7.36" fill="#e07649"/><rect x="280.50" y="820.09" width="43.70" height="7.36" fill="#dc6633"/><rect x="323.80" y="820.09" width="43.70" height="7.36" fill="#dc6633"/><rect x="367.10" y="820.09" width="43.70" height="7.36" fill="#dc6633"/><rect x="410.40" y="820.09" width="43.70" height="7.36" fill="#e38359"/><rect x="453.70" y="820.09" width="43.70" height="7.36" fill="#fdfdfd"/><rect x="497.00" y="820.09" width="43.70" height="7.36" fill="#fdfdfd"/><rect x="540.30" y="820.09" width="43.70" height="7.36" fill="#fdfdfd"/><rect x="64.00" y="827.04" width="43.70" height="7.36" fill="#fdfdfd"/><rect x="107.30" y="827.04" width="43.70" height="7.36" fill="#fdfdfd"/><rect x="150.60" y="827.04" width="43.70" height="7.36" fill="#fdfdfd"/><rect x="193.90" y="827.04" width="43.70" height="7.36" fill="#edac8f"/><rect x="237.20" y="827.04" width="43.70" height="7.36" fill="#eca88a"/><rect x="280.50" y="827.04" width="43.70" height="7.36" fill="#eaa07f"/><rect x="323.80" y="827.04" width="43.70" height="7.36" fill="#e38359"/><rect x="367.10" y="827.04" width="43.70" height="7.36" fill="#e07649"/><rect x="410.40" y="827.04" width="43.70" height="7.36" fill="#df7244"/><rect x="453.70" y="827.04" width="43.70" height="7.36" fill="#e38359"/><rect x="497.00" y="827.04" width="43.70" height="7.36" fill="#eaa07f"/><rect x="540.30" y="827.04" width="43.70" height="7.36" fill="#fdfdfd"/><rect x="64.00" y="834.00" width="43.70" height="7.36" fill="#fdfdfd"/><rect x="107.30" y="834.00" width="43.70" height="7.36" fill="#fdfdfd"/><rect x="150.60" y="834.00" width="43.70" height="7.36" fill="#fdfdfd"/><rect x="193.90" y="834.00" width="43.70" height="7.36" fill="#fdfdfd"/><rect x="237.20" y="834.00" width="43.70" height="7.36" fill="#fdfdfd"/><rect x="280.50" y="834.00" width="43.70" height="7.36" fill="#fdfdfd"/><rect x="323.80" y="834.00" width="43.70" height="7.36" fill="#fdfdfd"/><rect x="367.10" y="834.00" width="43.70" height="7.36" fill="#fdfdfd"/><rect x="410.40" y="834.00" width="43.70" height="7.36" fill="#fdfdfd"/><rect x="453.70" y="834.00" width="43.70" height="7.36" fill="#fdfdfd"/><rect x="497.00" y="834.00" width="43.70" height="7.36" fill="#fdfdfd"/><rect x="540.30" y="834.00" width="43.70" height="7.36" fill="#fdfdfd"/><rect x="64.00" y="840.96" width="43.70" height="7.36" fill="#fdfdfd"/><rect x="107.30" y="840.96" width="43.70" height="7.36" fill="#fdfdfd"/><rect x="150.60" y="840.96" width="43.70" height="7.36" fill="#fdfdfd"/><rect x="193.90" y="840.96" width="43.70" height="7.36" fill="#fdfdfd"/><rect x="237.20" y="840.96" width="43.70" height="7.36" fill="#fdfdfd"/><rect x="280.50" y="840.96" width="43.70" height="7.36" fill="#fdfdfd"/><rect x="323.80" y="840.96" width="43.70" height="7.36" fill="#fdfdfd"/><rect x="367.10" y="840.96" width="43.70" height="7.36" fill="#eaa07f"/><rect x="410.40" y="840.96" width="43.70" height="7.36" fill="#e58b64"/><rect x="453.70" y="840.96" width="43.70" height="7.36" fill="#e17b4e"/><rect x="497.00" y="840.96" width="43.70" height="7.36" fill="#de6e3e"/><rect x="540.30" y="840.96" width="43.70" height="7.36" fill="#e68f69"/><rect x="64.00" y="847.91" width="43.70" height="7.36" fill="#fdfdfd"/><rect x="107.30" y="847.91" width="43.70" height="7.36" fill="#fdfdfd"/><rect x="150.60" y="847.91" width="43.70" height="7.36" fill="#fdfdfd"/><rect x="193.90" y="847.91" width="43.70" height="7.36" fill="#fdfdfd"/><rect x="237.20" y="847.91" width="43.70" height="7.36" fill="#fdfdfd"/><rect x="280.50" y="847.91" width="43.70" height="7.36" fill="#fdfdfd"/><rect x="323.80" y="847.91" width="43.70" height="7.36" fill="#edac8f"/><rect x="367.10" y="847.91" width="43.70" height="7.36" fill="#e99c7a"/><rect x="410.40" y="847.91" width="43.70" height="7.36" fill="#e58b64"/><rect x="453.70" y="847.91" width="43.70" height="7.36" fill="#e17b4e"/><rect x="497.00" y="847.91" width="43.70" height="7.36" fill="#e07649"/><rect x="540.30" y="847.91" width="43.70" height="7.36" fill="#e68f69"/><rect x="64.00" y="854.87" width="43.70" height="7.36" fill="#fdfdfd"/><rect x="107.30" y="854.87" width="43.70" height="7.36" fill="#fdfdfd"/><rect x="150.60" y="854.87" width="43.70" height="7.36" fill="#fdfdfd"/><rect x="193.90" y="854.87" width="43.70" height="7.36" fill="#fdfdfd"/><rect x="237.20" y="854.87" width="43.70" height="7.36" fill="#fdfdfd"/><rect x="280.50" y="854.87" width="43.70" height="7.36" fill="#eeb194"/><rect x="323.80" y="854.87" width="43.70" height="7.36" fill="#edac8f"/><rect x="367.10" y="854.87" width="43.70" height="7.36" fill="#eca88a"/><rect x="410.40" y="854.87" width="43.70" height="7.36" fill="#fdfdfd"/><rect x="453.70" y="854.87" width="43.70" height="7.36" fill="#fdfdfd"/><rect x="497.00" y="854.87" width="43.70" height="7.36" fill="#fdfdfd"/><rect x="540.30" y="854.87" width="43.70" height="7.36" fill="#fdfdfd"/><rect x="64.00" y="861.82" width="43.70" height="7.36" fill="#fdfdfd"/><rect x="107.30" y="861.82" width="43.70" height="7.36" fill="#fdfdfd"/><rect x="150.60" y="861.82" width="43.70" height="7.36" fill="#fdfdfd"/><rect x="193.90" y="861.82" width="43.70" height="7.36" fill="#fdfdfd"/><rect x="237.20" y="861.82" width="43.70" height="7.36" fill="#fdfdfd"/><rect x="280.50" y="861.82" width="43.70" height="7.36" fill="#fdfdfd"/><rect x="323.80" y="861.82" width="43.70" height="7.36" fill="#fdfdfd"/><rect x="367.10" y="861.82" width="43.70" height="7.36" fill="#fdfdfd"/><rect x="410.40" y="861.82" width="43.70" height="7.36" fill="#fdfdfd"/><rect x="453.70" y="861.82" width="43.70" height="7.36" fill="#eaa07f"/><rect x="497.00" y="861.82" width="43.70" height="7.36" fill="#eba484"/><rect x="540.30" y="861.82" width="43.70" height="7.36" fill="#fdfdfd"/><rect x="64.00" y="868.78" width="43.70" height="7.36" fill="#fdfdfd"/><rect x="107.30" y="868.78" width="43.70" height="7.36" fill="#fdfdfd"/><rect x="150.60" y="868.78" width="43.70" height="7.36" fill="#fdfdfd"/><rect x="193.90" y="868.78" width="43.70" height="7.36" fill="#fdfdfd"/><rect x="237.20" y="868.78" width="43.70" height="7.36" fill="#fdfdfd"/><rect x="280.50" y="868.78" width="43.70" height="7.36" fill="#edac8f"/><rect x="323.80" y="868.78" width="43.70" height="7.36" fill="#eba484"/><rect x="367.10" y="868.78" width="43.70" height="7.36" fill="#e7936f"/><rect x="410.40" y="868.78" width="43.70" height="7.36" fill="#e38359"/><rect x="453.70" y="868.78" width="43.70" height="7.36" fill="#e17b4e"/><rect x="497.00" y="868.78" width="43.70" height="7.36" fill="#e17b4e"/><rect x="540.30" y="868.78" width="43.70" height="7.36" fill="#fdfdfd"/><rect x="64.00" y="875.74" width="43.70" height="7.36" fill="#e58b64"/><rect x="107.30" y="875.74" width="43.70" height="7.36" fill="#e4875e"/><rect x="150.60" y="875.74" width="43.70" height="7.36" fill="#e58b64"/><rect x="193.90" y="875.74" width="43.70" height="7.36" fill="#e58b64"/><rect x="237.20" y="875.74" width="43.70" height="7.36" fill="#e58b64"/><rect x="280.50" y="875.74" width="43.70" height="7.36" fill="#e4875e"/><rect x="323.80" y="875.74" width="43.70" height="7.36" fill="#e58b64"/><rect x="367.10" y="875.74" width="43.70" height="7.36" fill="#e4875e"/><rect x="410.40" y="875.74" width="43.70" height="7.36" fill="#e38359"/><rect x="453.70" y="875.74" width="43.70" height="7.36" fill="#e27f54"/><rect x="497.00" y="875.74" width="43.70" height="7.36" fill="#e27f54"/><rect x="540.30" y="875.74" width="43.70" height="7.36" fill="#e89874"/><rect x="64.00" y="882.69" width="43.70" height="7.36" fill="#e17b4e"/><rect x="107.30" y="882.69" width="43.70" height="7.36" fill="#e07649"/><rect x="150.60" y="882.69" width="43.70" height="7.36" fill="#de6e3e"/><rect x="193.90" y="882.69" width="43.70" height="7.36" fill="#dc6633"/><rect x="237.20" y="882.69" width="43.70" height="7.36" fill="#da5d28"/><rect x="280.50" y="882.69" width="43.70" height="7.36" fill="#d95923"/><rect x="323.80" y="882.69" width="43.70" height="7.36" fill="#dd6a39"/><rect x="367.10" y="882.69" width="43.70" height="7.36" fill="#dc6633"/><rect x="410.40" y="882.69" width="43.70" height="7.36" fill="#e38359"/><rect x="453.70" y="882.69" width="43.70" height="7.36" fill="#e58b64"/><rect x="497.00" y="882.69" width="43.70" height="7.36" fill="#e7936f"/><rect x="540.30" y="882.69" width="43.70" height="7.36" fill="#eba484"/><rect x="64.00" y="889.65" width="43.70" height="7.36" fill="#fdfdfd"/><rect x="107.30" y="889.65" width="43.70" height="7.36" fill="#fdfdfd"/><rect x="150.60" y="889.65" width="43.70" height="7.36" fill="#fdfdfd"/><rect x="193.90" y="889.65" width="43.70" height="7.36" fill="#fdfdfd"/><rect x="237.20" y="889.65" width="43.70" height="7.36" fill="#fdfdfd"/><rect x="280.50" y="889.65" width="43.70" height="7.36" fill="#fdfdfd"/><rect x="323.80" y="889.65" width="43.70" height="7.36" fill="#fdfdfd"/><rect x="367.10" y="889.65" width="43.70" height="7.36" fill="#fdfdfd"/><rect x="410.40" y="889.65" width="43.70" height="7.36" fill="#fdfdfd"/><rect x="453.70" y="889.65" width="43.70" height="7.36" fill="#fdfdfd"/><rect x="497.00" y="889.65" width="43.70" height="7.36" fill="#fdfdfd"/><rect x="540.30" y="889.65" width="43.70" height="7.36" fill="#fdfdfd"/><rect x="64.00" y="896.61" width="43.70" height="7.36" fill="#fdfdfd"/><rect x="107.30" y="896.61" width="43.70" height="7.36" fill="#fdfdfd"/><rect x="150.60" y="896.61" width="43.70" height="7.36" fill="#fdfdfd"/><rect x="193.90" y="896.61" width="43.70" height="7.36" fill="#fdfdfd"/><rect x="237.20" y="896.61" width="43.70" height="7.36" fill="#fdfdfd"/><rect x="280.50" y="896.61" width="43.70" height="7.36" fill="#fdfdfd"/><rect x="323.80" y="896.61" width="43.70" height="7.36" fill="#fdfdfd"/><rect x="367.10" y="896.61" width="43.70" height="7.36" fill="#eba484"/><rect x="410.40" y="896.61" width="43.70" height="7.36" fill="#e99c7a"/><rect x="453.70" y="896.61" width="43.70" height="7.36" fill="#eba484"/><rect x="497.00" y="896.61" width="43.70" height="7.36" fill="#fdfdfd"/><rect x="540.30" y="896.61" width="43.70" height="7.36" fill="#fdfdfd"/><rect x="64.00" y="903.56" width="43.70" height="7.36" fill="#fdfdfd"/><rect x="107.30" y="903.56" width="43.70" height="7.36" fill="#fdfdfd"/><rect x="150.60" y="903.56" width="43.70" height="7.36" fill="#fdfdfd"/><rect x="193.90" y="903.56" width="43.70" height="7.36" fill="#fdfdfd"/><rect x="237.20" y="903.56" width="43.70" height="7.36" fill="#edac8f"/><rect x="280.50" y="903.56" width="43.70" height="7.36" fill="#e89874"/><rect x="323.80" y="903.56" width="43.70" height="7.36" fill="#e4875e"/><rect x="367.10" y="903.56" width="43.70" height="7.36" fill="#e38359"/><rect x="410.40" y="903.56" width="43.70" height="7.36" fill="#e38359"/><rect x="453.70" y="903.56" width="43.70" height="7.36" fill="#e58b64"/><rect x="497.00" y="903.56" width="43.70" height="7.36" fill="#e58b64"/><rect x="540.30" y="903.56" width="43.70" height="7.36" fill="#eca88a"/><rect x="64.00" y="910.52" width="43.70" height="7.36" fill="#fdfdfd"/><rect x="107.30" y="910.52" width="43.70" height="7.36" fill="#edac8f"/><rect x="150.60" y="910.52" width="43.70" height="7.36" fill="#edac8f"/><rect x="193.90" y="910.52" width="43.70" height="7.36" fill="#eba484"/><rect x="237.20" y="910.52" width="43.70" height="7.36" fill="#e68f69"/><rect x="280.50" y="910.52" width="43.70" height="7.36" fill="#e38359"/><rect x="323.80" y="910.52" width="43.70" height="7.36" fill="#e38359"/><rect x="367.10" y="910.52" width="43.70" height="7.36" fill="#e07649"/><rect x="410.40" y="910.52" width="43.70" height="7.36" fill="#df7244"/><rect x="453.70" y="910.52" width="43.70" height="7.36" fill="#df7244"/><rect x="497.00" y="910.52" width="43.70" height="7.36" fill="#de6e3e"/><rect x="540.30" y="910.52" width="43.70" height="7.36" fill="#e27f54"/><rect x="64.00" y="917.47" width="43.70" height="7.36" fill="#fdfdfd"/><rect x="107.30" y="917.47" width="43.70" height="7.36" fill="#fdfdfd"/><rect x="150.60" y="917.47" width="43.70" height="7.36" fill="#fdfdfd"/><rect x="193.90" y="917.47" width="43.70" height="7.36" fill="#fdfdfd"/><rect x="237.20" y="917.47" width="43.70" height="7.36" fill="#fdfdfd"/><rect x="280.50" y="917.47" width="43.70" height="7.36" fill="#eba484"/><rect x="323.80" y="917.47" width="43.70" height="7.36" fill="#e89874"/><rect x="367.10" y="917.47" width="43.70" height="7.36" fill="#e58b64"/><rect x="410.40" y="917.47" width="43.70" height="7.36" fill="#e58b64"/><rect x="453.70" y="917.47" width="43.70" height="7.36" fill="#e58b64"/><rect x="497.00" y="917.47" width="43.70" height="7.36" fill="#e89874"/><rect x="540.30" y="917.47" width="43.70" height="7.36" fill="#e99c7a"/><rect x="64.00" y="924.43" width="43.70" height="7.36" fill="#fdfdfd"/><rect x="107.30" y="924.43" width="43.70" height="7.36" fill="#fdfdfd"/><rect x="150.60" y="924.43" width="43.70" height="7.36" fill="#fdfdfd"/><rect x="193.90" y="924.43" width="43.70" height="7.36" fill="#fdfdfd"/><rect x="237.20" y="924.43" width="43.70" height="7.36" fill="#fdfdfd"/><rect x="280.50" y="924.43" width="43.70" height="7.36" fill="#fdfdfd"/><rect x="323.80" y="924.43" width="43.70" height="7.36" fill="#fdfdfd"/><rect x="367.10" y="924.43" width="43.70" height="7.36" fill="#eca88a"/><rect x="410.40" y="924.43" width="43.70" height="7.36" fill="#eaa07f"/><rect x="453.70" y="924.43" width="43.70" height="7.36" fill="#e7936f"/><rect x="497.00" y="924.43" width="43.70" height="7.36" fill="#e89874"/><rect x="540.30" y="924.43" width="43.70" height="7.36" fill="#fdfdfd"/><rect x="64.00" y="931.39" width="43.70" height="7.36" fill="#fdfdfd"/><rect x="107.30" y="931.39" width="43.70" height="7.36" fill="#fdfdfd"/><rect x="150.60" y="931.39" width="43.70" height="7.36" fill="#fdfdfd"/><rect x="193.90" y="931.39" width="43.70" height="7.36" fill="#fdfdfd"/><rect x="237.20" y="931.39" width="43.70" height="7.36" fill="#eca88a"/><rect x="280.50" y="931.39" width="43.70" height="7.36" fill="#e99c7a"/><rect x="323.80" y="931.39" width="43.70" height="7.36" fill="#e68f69"/><rect x="367.10" y="931.39" width="43.70" height="7.36" fill="#e58b64"/><rect x="410.40" y="931.39" width="43.70" height="7.36" fill="#e4875e"/><rect x="453.70" y="931.39" width="43.70" height="7.36" fill="#e4875e"/><rect x="497.00" y="931.39" width="43.70" height="7.36" fill="#e68f69"/><rect x="540.30" y="931.39" width="43.70" height="7.36" fill="#e7936f"/><rect x="64.00" y="938.34" width="43.70" height="7.36" fill="#eba484"/><rect x="107.30" y="938.34" width="43.70" height="7.36" fill="#eba484"/><rect x="150.60" y="938.34" width="43.70" height="7.36" fill="#e99c7a"/><rect x="193.90" y="938.34" width="43.70" height="7.36" fill="#e7936f"/><rect x="237.20" y="938.34" width="43.70" height="7.36" fill="#e4875e"/><rect x="280.50" y="938.34" width="43.70" height="7.36" fill="#e38359"/><rect x="323.80" y="938.34" width="43.70" height="7.36" fill="#e4875e"/><rect x="367.10" y="938.34" width="43.70" height="7.36" fill="#e38359"/><rect x="410.40" y="938.34" width="43.70" height="7.36" fill="#e38359"/><rect x="453.70" y="938.34" width="43.70" height="7.36" fill="#e38359"/><rect x="497.00" y="938.34" width="43.70" height="7.36" fill="#e58b64"/><rect x="540.30" y="938.34" width="43.70" height="7.36" fill="#e58b64"/><rect x="64.00" y="945.30" width="43.70" height="7.36" fill="#eba484"/><rect x="107.30" y="945.30" width="43.70" height="7.36" fill="#eba484"/><rect x="150.60" y="945.30" width="43.70" height="7.36" fill="#eaa07f"/><rect x="193.90" y="945.30" width="43.70" height="7.36" fill="#e99c7a"/><rect x="237.20" y="945.30" width="43.70" height="7.36" fill="#e68f69"/><rect x="280.50" y="945.30" width="43.70" height="7.36" fill="#e27f54"/><rect x="323.80" y="945.30" width="43.70" height="7.36" fill="#e17b4e"/><rect x="367.10" y="945.30" width="43.70" height="7.36" fill="#de6e3e"/><rect x="410.40" y="945.30" width="43.70" height="7.36" fill="#df7244"/><rect x="453.70" y="945.30" width="43.70" height="7.36" fill="#de6e3e"/><rect x="497.00" y="945.30" width="43.70" height="7.36" fill="#de6e3e"/><rect x="540.30" y="945.30" width="43.70" height="7.36" fill="#df7244"/><rect x="64.00" y="952.26" width="43.70" height="7.36" fill="#fdfdfd"/><rect x="107.30" y="952.26" width="43.70" height="7.36" fill="#fdfdfd"/><rect x="150.60" y="952.26" width="43.70" height="7.36" fill="#fdfdfd"/><rect x="193.90" y="952.26" width="43.70" height="7.36" fill="#fdfdfd"/><rect x="237.20" y="952.26" width="43.70" height="7.36" fill="#fdfdfd"/><rect x="280.50" y="952.26" width="43.70" height="7.36" fill="#fdfdfd"/><rect x="323.80" y="952.26" width="43.70" height="7.36" fill="#eba484"/><rect x="367.10" y="952.26" width="43.70" height="7.36" fill="#e68f69"/><rect x="410.40" y="952.26" width="43.70" height="7.36" fill="#e38359"/><rect x="453.70" y="952.26" width="43.70" height="7.36" fill="#e38359"/><rect x="497.00" y="952.26" width="43.70" height="7.36" fill="#e4875e"/><rect x="540.30" y="952.26" width="43.70" height="7.36" fill="#e38359"/><rect x="64.00" y="959.21" width="43.70" height="7.36" fill="#fdfdfd"/><rect x="107.30" y="959.21" width="43.70" height="7.36" fill="#fdfdfd"/><rect x="150.60" y="959.21" width="43.70" height="7.36" fill="#fdfdfd"/><rect x="193.90" y="959.21" width="43.70" height="7.36" fill="#edac8f"/><rect x="237.20" y="959.21" width="43.70" height="7.36" fill="#e99c7a"/><rect x="280.50" y="959.21" width="43.70" height="7.36" fill="#e58b64"/><rect x="323.80" y="959.21" width="43.70" height="7.36" fill="#e17b4e"/><rect x="367.10" y="959.21" width="43.70" height="7.36" fill="#dd6a39"/><rect x="410.40" y="959.21" width="43.70" height="7.36" fill="#dc6633"/><rect x="453.70" y="959.21" width="43.70" height="7.36" fill="#dd6a39"/><rect x="497.00" y="959.21" width="43.70" height="7.36" fill="#dd6a39"/><rect x="540.30" y="959.21" width="43.70" height="7.36" fill="#e38359"/><rect x="64.00" y="966.17" width="43.70" height="7.36" fill="#df7244"/><rect x="107.30" y="966.17" width="43.70" height="7.36" fill="#dc6633"/><rect x="150.60" y="966.17" width="43.70" height="7.36" fill="#dd6a39"/><rect x="193.90" y="966.17" width="43.70" height="7.36" fill="#d95923"/><rect x="237.20" y="966.17" width="43.70" height="7.36" fill="#d8551e"/><rect x="280.50" y="966.17" width="43.70" height="7.36" fill="#d8551e"/><rect x="323.80" y="966.17" width="43.70" height="7.36" fill="#d8551e"/><rect x="367.10" y="966.17" width="43.70" height="7.36" fill="#d8551e"/><rect x="410.40" y="966.17" width="43.70" height="7.36" fill="#d8551e"/><rect x="453.70" y="966.17" width="43.70" height="7.36" fill="#da5d28"/><rect x="497.00" y="966.17" width="43.70" height="7.36" fill="#dd6a39"/><rect x="540.30" y="966.17" width="43.70" height="7.36" fill="#de6e3e"/><rect x="64.00" y="973.12" width="43.70" height="7.36" fill="#e27f54"/><rect x="107.30" y="973.12" width="43.70" height="7.36" fill="#e27f54"/><rect x="150.60" y="973.12" width="43.70" height="7.36" fill="#e17b4e"/><rect x="193.90" y="973.12" width="43.70" height="7.36" fill="#e27f54"/><rect x="237.20" y="973.12" width="43.70" height="7.36" fill="#e27f54"/><rect x="280.50" y="973.12" width="43.70" height="7.36" fill="#e27f54"/><rect x="323.80" y="973.12" width="43.70" height="7.36" fill="#e38359"/><rect x="367.10" y="973.12" width="43.70" height="7.36" fill="#e38359"/><rect x="410.40" y="973.12" width="43.70" height="7.36" fill="#e38359"/><rect x="453.70" y="973.12" width="43.70" height="7.36" fill="#e38359"/><rect x="497.00" y="973.12" width="43.70" height="7.36" fill="#e7936f"/><rect x="540.30" y="973.12" width="43.70" height="7.36" fill="#eba484"/><rect x="64.00" y="980.08" width="43.70" height="7.36" fill="#eba484"/><rect x="107.30" y="980.08" width="43.70" height="7.36" fill="#eca88a"/><rect x="150.60" y="980.08" width="43.70" height="7.36" fill="#eeb194"/><rect x="193.90" y="980.08" width="43.70" height="7.36" fill="#eca88a"/><rect x="237.20" y="980.08" width="43.70" height="7.36" fill="#e89874"/><rect x="280.50" y="980.08" width="43.70" height="7.36" fill="#e68f69"/><rect x="323.80" y="980.08" width="43.70" height="7.36" fill="#e38359"/><rect x="367.10" y="980.08" width="43.70" height="7.36" fill="#e38359"/><rect x="410.40" y="980.08" width="43.70" height="7.36" fill="#e38359"/><rect x="453.70" y="980.08" width="43.70" height="7.36" fill="#e68f69"/><rect x="497.00" y="980.08" width="43.70" height="7.36" fill="#e99c7a"/><rect x="540.30" y="980.08" width="43.70" height="7.36" fill="#fdfdfd"/><rect x="64.00" y="987.04" width="43.70" height="7.36" fill="#fdfdfd"/><rect x="107.30" y="987.04" width="43.70" height="7.36" fill="#fdfdfd"/><rect x="150.60" y="987.04" width="43.70" height="7.36" fill="#fdfdfd"/><rect x="193.90" y="987.04" width="43.70" height="7.36" fill="#fdfdfd"/><rect x="237.20" y="987.04" width="43.70" height="7.36" fill="#fdfdfd"/><rect x="280.50" y="987.04" width="43.70" height="7.36" fill="#fdfdfd"/><rect x="323.80" y="987.04" width="43.70" height="7.36" fill="#fdfdfd"/><rect x="367.10" y="987.04" width="43.70" height="7.36" fill="#fdfdfd"/><rect x="410.40" y="987.04" width="43.70" height="7.36" fill="#fdfdfd"/><rect x="453.70" y="987.04" width="43.70" height="7.36" fill="#fdfdfd"/><rect x="497.00" y="987.04" width="43.70" height="7.36" fill="#fdfdfd"/><rect x="540.30" y="987.04" width="43.70" height="7.36" fill="#fdfdfd"/><rect x="64.00" y="993.99" width="43.70" height="7.36" fill="#fdfdfd"/><rect x="107.30" y="993.99" width="43.70" height="7.36" fill="#fdfdfd"/><rect x="150.60" y="993.99" width="43.70" height="7.36" fill="#fdfdfd"/><rect x="193.90" y="993.99" width="43.70" height="7.36" fill="#fdfdfd"/><rect x="237.20" y="993.99" width="43.70" height="7.36" fill="#fdfdfd"/><rect x="280.50" y="993.99" width="43.70" height="7.36" fill="#fdfdfd"/><rect x="323.80" y="993.99" width="43.70" height="7.36" fill="#fdfdfd"/><rect x="367.10" y="993.99" width="43.70" height="7.36" fill="#eca88a"/><rect x="410.40" y="993.99" width="43.70" height="7.36" fill="#eca88a"/><rect x="453.70" y="993.99" width="43.70" height="7.36" fill="#eba484"/><rect x="497.00" y="993.99" width="43.70" height="7.36" fill="#eca88a"/><rect x="540.30" y="993.99" width="43.70" height="7.36" fill="#fdfdfd"/><rect x="64.00" y="1000.95" width="43.70" height="7.36" fill="#eba484"/><rect x="107.30" y="1000.95" width="43.70" height="7.36" fill="#eaa07f"/><rect x="150.60" y="1000.95" width="43.70" height="7.36" fill="#eba484"/><rect x="193.90" y="1000.95" width="43.70" height="7.36" fill="#e99c7a"/><rect x="237.20" y="1000.95" width="43.70" height="7.36" fill="#e68f69"/><rect x="280.50" y="1000.95" width="43.70" height="7.36" fill="#e58b64"/><rect x="323.80" y="1000.95" width="43.70" height="7.36" fill="#e7936f"/><rect x="367.10" y="1000.95" width="43.70" height="7.36" fill="#e7936f"/><rect x="410.40" y="1000.95" width="43.70" height="7.36" fill="#eaa07f"/><rect x="453.70" y="1000.95" width="43.70" height="7.36" fill="#eba484"/><rect x="497.00" y="1000.95" width="43.70" height="7.36" fill="#fdfdfd"/><rect x="540.30" y="1000.95" width="43.70" height="7.36" fill="#fdfdfd"/><rect x="64.00" y="1007.91" width="43.70" height="7.36" fill="#fdfdfd"/><rect x="107.30" y="1007.91" width="43.70" height="7.36" fill="#fdfdfd"/><rect x="150.60" y="1007.91" width="43.70" height="7.36" fill="#fdfdfd"/><rect x="193.90" y="1007.91" width="43.70" height="7.36" fill="#fdfdfd"/><rect x="237.20" y="1007.91" width="43.70" height="7.36" fill="#fdfdfd"/><rect x="280.50" y="1007.91" width="43.70" height="7.36" fill="#fdfdfd"/><rect x="323.80" y="1007.91" width="43.70" height="7.36" fill="#eba484"/><rect x="367.10" y="1007.91" width="43.70" height="7.36" fill="#e89874"/><rect x="410.40" y="1007.91" width="43.70" height="7.36" fill="#eba484"/><rect x="453.70" y="1007.91" width="43.70" height="7.36" fill="#eaa07f"/><rect x="497.00" y="1007.91" width="43.70" height="7.36" fill="#eca88a"/><rect x="540.30" y="1007.91" width="43.70" height="7.36" fill="#fdfdfd"/><rect x="64.00" y="1014.86" width="43.70" height="7.36" fill="#fdfdfd"/><rect x="107.30" y="1014.86" width="43.70" height="7.36" fill="#fdfdfd"/><rect x="150.60" y="1014.86" width="43.70" height="7.36" fill="#fdfdfd"/><rect x="193.90" y="1014.86" width="43.70" height="7.36" fill="#fdfdfd"/><rect x="237.20" y="1014.86" width="43.70" height="7.36" fill="#fdfdfd"/><rect x="280.50" y="1014.86" width="43.70" height="7.36" fill="#fdfdfd"/><rect x="323.80" y="1014.86" width="43.70" height="7.36" fill="#fdfdfd"/><rect x="367.10" y="1014.86" width="43.70" height="7.36" fill="#fdfdfd"/><rect x="410.40" y="1014.86" width="43.70" height="7.36" fill="#fdfdfd"/><rect x="453.70" y="1014.86" width="43.70" height="7.36" fill="#fdfdfd"/><rect x="497.00" y="1014.86" width="43.70" height="7.36" fill="#fdfdfd"/><rect x="540.30" y="1014.86" width="43.70" height="7.36" fill="#fdfdfd"/><rect x="64.00" y="1021.82" width="43.70" height="7.36" fill="#fdfdfd"/><rect x="107.30" y="1021.82" width="43.70" height="7.36" fill="#fdfdfd"/><rect x="150.60" y="1021.82" width="43.70" height="7.36" fill="#fdfdfd"/><rect x="193.90" y="1021.82" width="43.70" height="7.36" fill="#fdfdfd"/><rect x="237.20" y="1021.82" width="43.70" height="7.36" fill="#edac8f"/><rect x="280.50" y="1021.82" width="43.70" height="7.36" fill="#eba484"/><rect x="323.80" y="1021.82" width="43.70" height="7.36" fill="#eba484"/><rect x="367.10" y="1021.82" width="43.70" height="7.36" fill="#eaa07f"/><rect x="410.40" y="1021.82" width="43.70" height="7.36" fill="#edac8f"/><rect x="453.70" y="1021.82" width="43.70" height="7.36" fill="#fdfdfd"/><rect x="497.00" y="1021.82" width="43.70" height="7.36" fill="#fdfdfd"/><rect x="540.30" y="1021.82" width="43.70" height="7.36" fill="#fdfdfd"/><rect x="64.00" y="1028.77" width="43.70" height="7.36" fill="#fdfdfd"/><rect x="107.30" y="1028.77" width="43.70" height="7.36" fill="#fdfdfd"/><rect x="150.60" y="1028.77" width="43.70" height="7.36" fill="#fdfdfd"/><rect x="193.90" y="1028.77" width="43.70" height="7.36" fill="#fdfdfd"/><rect x="237.20" y="1028.77" width="43.70" height="7.36" fill="#edac8f"/><rect x="280.50" y="1028.77" width="43.70" height="7.36" fill="#eaa07f"/><rect x="323.80" y="1028.77" width="43.70" height="7.36" fill="#e89874"/><rect x="367.10" y="1028.77" width="43.70" height="7.36" fill="#e58b64"/><rect x="410.40" y="1028.77" width="43.70" height="7.36" fill="#de6e3e"/><rect x="453.70" y="1028.77" width="43.70" height="7.36" fill="#dd6a39"/><rect x="497.00" y="1028.77" width="43.70" height="7.36" fill="#df7244"/><rect x="540.30" y="1028.77" width="43.70" height="7.36" fill="#e68f69"/><rect x="64.00" y="1035.73" width="43.70" height="7.36" fill="#fdfdfd"/><rect x="107.30" y="1035.73" width="43.70" height="7.36" fill="#fdfdfd"/><rect x="150.60" y="1035.73" width="43.70" height="7.36" fill="#fdfdfd"/><rect x="193.90" y="1035.73" width="43.70" height="7.36" fill="#fdfdfd"/><rect x="237.20" y="1035.73" width="43.70" height="7.36" fill="#fdfdfd"/><rect x="280.50" y="1035.73" width="43.70" height="7.36" fill="#fdfdfd"/><rect x="323.80" y="1035.73" width="43.70" height="7.36" fill="#eba484"/><rect x="367.10" y="1035.73" width="43.70" height="7.36" fill="#eba484"/><rect x="410.40" y="1035.73" width="43.70" height="7.36" fill="#eca88a"/><rect x="453.70" y="1035.73" width="43.70" height="7.36" fill="#fdfdfd"/><rect x="497.00" y="1035.73" width="43.70" height="7.36" fill="#fdfdfd"/><rect x="540.30" y="1035.73" width="43.70" height="7.36" fill="#fdfdfd"/><rect x="64.00" y="1042.69" width="43.70" height="7.36" fill="#db622e"/><rect x="107.30" y="1042.69" width="43.70" height="7.36" fill="#db622e"/><rect x="150.60" y="1042.69" width="43.70" height="7.36" fill="#d8551e"/><rect x="193.90" y="1042.69" width="43.70" height="7.36" fill="#d8551e"/><rect x="237.20" y="1042.69" width="43.70" height="7.36" fill="#d8551e"/><rect x="280.50" y="1042.69" width="43.70" height="7.36" fill="#d8551e"/><rect x="323.80" y="1042.69" width="43.70" height="7.36" fill="#d95923"/><rect x="367.10" y="1042.69" width="43.70" height="7.36" fill="#d95923"/><rect x="410.40" y="1042.69" width="43.70" height="7.36" fill="#e27f54"/><rect x="453.70" y="1042.69" width="43.70" height="7.36" fill="#fdfdfd"/><rect x="497.00" y="1042.69" width="43.70" height="7.36" fill="#fdfdfd"/><rect x="540.30" y="1042.69" width="43.70" height="7.36" fill="#fdfdfd"/><rect x="64.00" y="1049.64" width="43.70" height="7.36" fill="#eaa07f"/><rect x="107.30" y="1049.64" width="43.70" height="7.36" fill="#eaa07f"/><rect x="150.60" y="1049.64" width="43.70" height="7.36" fill="#eaa07f"/><rect x="193.90" y="1049.64" width="43.70" height="7.36" fill="#e99c7a"/><rect x="237.20" y="1049.64" width="43.70" height="7.36" fill="#e89874"/><rect x="280.50" y="1049.64" width="43.70" height="7.36" fill="#e7936f"/><rect x="323.80" y="1049.64" width="43.70" height="7.36" fill="#e99c7a"/><rect x="367.10" y="1049.64" width="43.70" height="7.36" fill="#e99c7a"/><rect x="410.40" y="1049.64" width="43.70" height="7.36" fill="#eba484"/><rect x="453.70" y="1049.64" width="43.70" height="7.36" fill="#eba484"/><rect x="497.00" y="1049.64" width="43.70" height="7.36" fill="#fdfdfd"/><rect x="540.30" y="1049.64" width="43.70" height="7.36" fill="#fdfdfd"/></g>
<rect x="64.0" y="611.4" width="519.6" height="445.2" fill="none" stroke="#000" stroke-width="2"/>
<path d="M64.0,614.88h6M583.6,614.88h-6M64.0,621.83h6M583.6,621.83h-6M64.0,628.79h6M583.6,628.79h-6M64.0,635.75h6M583.6,635.75h-6M64.0,642.70h6M583.6,642.70h-6M64.0,649.66h6M583.6,649.66h-6M64.0,656.62h6M583.6,656.62h-6M64.0,663.57h6M583.6,663.57h-6M64.0,670.53h6M583.6,670.53h-6M64.0,677.48h6M583.6,677.48h-6M64.0,684.44h6M583.6,684.44h-6M64.0,691.40h6M583.6,691.40h-6M64.0,698.35h6M583.6,698.35h-6M64.0,705.31h6M583.6,705.31h-6M64.0,712.27h6M583.6,712.27h-6M64.0,719.22h6M583.6,719.22h-6M64.0,726.18h6M583.6,726.18h-6M64.0,733.13h6M583.6,733.13h-6M64.0,740.09h6M583.6,740.09h-6M64.0,747.05h6M583.6,747.05h-6M64.0,754.00h6M583.6,754.00h-6M64.0,760.96h6M583.6,760.96h-6M64.0,767.92h6M583.6,767.92h-6M64.0,774.87h6M583.6,774.87h-6M64.0,781.83h6M583.6,781.83h-6M64.0,788.78h6M583.6,788.78h-6M64.0,795.74h6M583.6,795.74h-6M64.0,802.70h6M583.6,802.70h-6M64.0,809.65h6M583.6,809.65h-6M64.0,816.61h6M583.6,816.61h-6M64.0,823.57h6M583.6,823.57h-6M64.0,830.52h6M583.6,830.52h-6M64.0,837.48h6M583.6,837.48h-6M64.0,844.43h6M583.6,844.43h-6M64.0,851.39h6M583.6,851.39h-6M64.0,858.35h6M583.6,858.35h-6M64.0,865.30h6M583.6,865.30h-6M64.0,872.26h6M583.6,872.26h-6M64.0,879.22h6M583.6,879.22h-6M64.0,886.17h6M583.6,886.17h-6M64.0,893.13h6M583.6,893.13h-6M64.0,900.08h6M583.6,900.08h-6M64.0,907.04h6M583.6,907.04h-6M64.0,914.00h6M583.6,914.00h-6M64.0,920.95h6M583.6,920.95h-6M64.0,927.91h6M583.6,927.91h-6M64.0,934.87h6M583.6,934.87h-6M64.0,941.82h6M583.6,941.82h-6M64.0,948.78h6M583.6,948.78h-6M64.0,955.73h6M583.6,955.73h-6M64.0,962.69h6M583.6,962.69h-6M64.0,969.65h6M583.6,969.65h-6M64.0,976.60h6M583.6,976.60h-6M64.0,983.56h6M583.6,983.56h-6M64.0,990.52h6M583.6,990.52h-6M64.0,997.47h6M583.6,997.47h-6M64.0,1004.43h6M583.6,1004.43h-6M64.0,1011.38h6M583.6,1011.38h-6M64.0,1018.34h6M583.6,1018.34h-6M64.0,1025.30h6M583.6,1025.30h-6M64.0,1032.25h6M583.6,1032.25h-6M64.0,1039.21h6M583.6,1039.21h-6M64.0,1046.17h6M583.6,1046.17h-6M64.0,1053.12h6M583.6,1053.12h-6M85.65,611.4v6M85.65,1056.6v-6M128.95,611.4v6M128.95,1056.6v-6M172.25,611.4v6M172.25,1056.6v-6M215.55,611.4v6M215.55,1056.6v-6M258.85,611.4v6M258.85,1056.6v-6M302.15,611.4v6M302.15,1056.6v-6M345.45,611.4v6M345.45,1056.6v-6M388.75,611.4v6M388.75,1056.6v-6M432.05,611.4v6M432.05,1056.6v-6M475.35,611.4v6M475.35,1056.6v-6M518.65,611.4v6M518.65,1056.6v-6M561.95,611.4v6M561.95,1056.6v-6" stroke="#000" stroke-width="1.7" fill="none"/>
<g font-size="9.8" fill="#222"><text transform="translate(58.2,617.78) scale(0.88,1)" text-anchor="end">Fp1</text><text transform="translate(58.2,624.73) scale(0.88,1)" text-anchor="end">Fz</text><text transform="translate(58.2,631.69) scale(0.88,1)" text-anchor="end">F3</text><text transform="translate(58.2,638.65) scale(0.88,1)" text-anchor="end">F7</text><text transform="translate(58.2,645.60) scale(0.88,1)" text-anchor="end">FT9</text><text transform="translate(58.2,652.56) scale(0.88,1)" text-anchor="end">FC5</text><text transform="translate(58.2,659.52) scale(0.88,1)" text-anchor="end">FC1</text><text transform="translate(58.2,666.47) scale(0.88,1)" text-anchor="end">C3</text><text transform="translate(58.2,673.43) scale(0.88,1)" text-anchor="end">T7</text><text transform="translate(58.2,680.38) scale(0.88,1)" text-anchor="end">TP9</text><text transform="translate(58.2,687.34) scale(0.88,1)" text-anchor="end">CP5</text><text transform="translate(58.2,694.30) scale(0.88,1)" text-anchor="end">CP1</text><text transform="translate(58.2,701.25) scale(0.88,1)" text-anchor="end">Pz</text><text transform="translate(58.2,708.21) scale(0.88,1)" text-anchor="end">P3</text><text transform="translate(58.2,715.17) scale(0.88,1)" text-anchor="end">P7</text><text transform="translate(58.2,722.12) scale(0.88,1)" text-anchor="end">O1</text><text transform="translate(58.2,729.08) scale(0.88,1)" text-anchor="end">Oz</text><text transform="translate(58.2,736.03) scale(0.88,1)" text-anchor="end">O2</text><text transform="translate(58.2,742.99) scale(0.88,1)" text-anchor="end">P4</text><text transform="translate(58.2,749.95) scale(0.88,1)" text-anchor="end">P8</text><text transform="translate(58.2,756.90) scale(0.88,1)" text-anchor="end">TP10</text><text transform="translate(58.2,763.86) scale(0.88,1)" text-anchor="end">CP6</text><text transform="translate(58.2,770.82) scale(0.88,1)" text-anchor="end">CP2</text><text transform="translate(58.2,777.77) scale(0.88,1)" text-anchor="end">C4</text><text transform="translate(58.2,784.73) scale(0.88,1)" text-anchor="end">T8</text><text transform="translate(58.2,791.68) scale(0.88,1)" text-anchor="end">FT10</text><text transform="translate(58.2,798.64) scale(0.88,1)" text-anchor="end">FC6</text><text transform="translate(58.2,805.60) scale(0.88,1)" text-anchor="end">FC2</text><text transform="translate(58.2,812.55) scale(0.88,1)" text-anchor="end">F4</text><text transform="translate(58.2,819.51) scale(0.88,1)" text-anchor="end">F8</text><text transform="translate(58.2,826.47) scale(0.88,1)" text-anchor="end">Fp2</text><text transform="translate(58.2,833.42) scale(0.88,1)" text-anchor="end">AF7</text><text transform="translate(58.2,840.38) scale(0.88,1)" text-anchor="end">AF3</text><text transform="translate(58.2,847.33) scale(0.88,1)" text-anchor="end">AFz</text><text transform="translate(58.2,854.29) scale(0.88,1)" text-anchor="end">F1</text><text transform="translate(58.2,861.25) scale(0.88,1)" text-anchor="end">F5</text><text transform="translate(58.2,868.20) scale(0.88,1)" text-anchor="end">FT7</text><text transform="translate(58.2,875.16) scale(0.88,1)" text-anchor="end">FC3</text><text transform="translate(58.2,882.12) scale(0.88,1)" text-anchor="end">FCz</text><text transform="translate(58.2,889.07) scale(0.88,1)" text-anchor="end">C1</text><text transform="translate(58.2,896.03) scale(0.88,1)" text-anchor="end">C5</text><text transform="translate(58.2,902.98) scale(0.88,1)" text-anchor="end">TP7</text><text transform="translate(58.2,909.94) scale(0.88,1)" text-anchor="end">CP3</text><text transform="translate(58.2,916.90) scale(0.88,1)" text-anchor="end">P1</text><text transform="translate(58.2,923.85) scale(0.88,1)" text-anchor="end">P5</text><text transform="translate(58.2,930.81) scale(0.88,1)" text-anchor="end">PO7</text><text transform="translate(58.2,937.77) scale(0.88,1)" text-anchor="end">PO3</text><text transform="translate(58.2,944.72) scale(0.88,1)" text-anchor="end">POz</text><text transform="translate(58.2,951.68) scale(0.88,1)" text-anchor="end">PO4</text><text transform="translate(58.2,958.63) scale(0.88,1)" text-anchor="end">PO8</text><text transform="translate(58.2,965.59) scale(0.88,1)" text-anchor="end">P6</text><text transform="translate(58.2,972.55) scale(0.88,1)" text-anchor="end">P2</text><text transform="translate(58.2,979.50) scale(0.88,1)" text-anchor="end">CPz</text><text transform="translate(58.2,986.46) scale(0.88,1)" text-anchor="end">CP4</text><text transform="translate(58.2,993.42) scale(0.88,1)" text-anchor="end">TP8</text><text transform="translate(58.2,1000.37) scale(0.88,1)" text-anchor="end">C6</text><text transform="translate(58.2,1007.33) scale(0.88,1)" text-anchor="end">C2</text><text transform="translate(58.2,1014.28) scale(0.88,1)" text-anchor="end">FC4</text><text transform="translate(58.2,1021.24) scale(0.88,1)" text-anchor="end">FT8</text><text transform="translate(58.2,1028.20) scale(0.88,1)" text-anchor="end">F6</text><text transform="translate(58.2,1035.15) scale(0.88,1)" text-anchor="end">F2</text><text transform="translate(58.2,1042.11) scale(0.88,1)" text-anchor="end">AF4</text><text transform="translate(58.2,1049.07) scale(0.88,1)" text-anchor="end">AF8</text><text transform="translate(58.2,1056.02) scale(0.88,1)" text-anchor="end">Cz</text></g>
<text x="85.7" y="1076.8999999999999" font-size="20.5" font-weight="bold" text-anchor="middle">2</text>
<text x="128.9" y="1076.8999999999999" font-size="20.5" font-weight="bold" text-anchor="middle">4</text>
<text x="172.2" y="1076.8999999999999" font-size="20.5" font-weight="bold" text-anchor="middle">6</text>
<text x="215.6" y="1076.8999999999999" font-size="20.5" font-weight="bold" text-anchor="middle">8</text>
<text x="258.9" y="1076.8999999999999" font-size="20.5" font-weight="bold" text-anchor="middle">10</text>
<text x="302.2" y="1076.8999999999999" font-size="20.5" font-weight="bold" text-anchor="middle">12</text>
<text x="345.5" y="1076.8999999999999" font-size="20.5" font-weight="bold" text-anchor="middle">14</text>
<text x="388.8" y="1076.8999999999999" font-size="20.5" font-weight="bold" text-anchor="middle">16</text>
<text x="432.1" y="1076.8999999999999" font-size="20.5" font-weight="bold" text-anchor="middle">18</text>
<text x="475.4" y="1076.8999999999999" font-size="20.5" font-weight="bold" text-anchor="middle">20</text>
<text x="518.7" y="1076.8999999999999" font-size="20.5" font-weight="bold" text-anchor="middle">22</text>
<text x="562.0" y="1076.8999999999999" font-size="20.5" font-weight="bold" text-anchor="middle">24</text>
<text x="325.5" y="1116.7" font-size="25" font-weight="bold" text-anchor="middle">Timescale (ms)</text>
<text transform="translate(21.6,833.9) rotate(-90)" font-size="25" font-weight="bold" text-anchor="middle">Electrode</text>
<text x="5.3" y="629" font-size="35.5" font-weight="bold">b</text>
<rect x="594.5" y="610.5" width="20.7" height="133.6" fill="url(#gO)"/>
<rect x="594.5" y="922.3" width="20.7" height="133.6" fill="url(#gP)"/>
<rect x="594.5" y="610.5" width="20.7" height="445.5" fill="none" stroke="#000" stroke-width="1.7"/>
<line x1="615.2" y1="610.5" x2="610.2" y2="610.5" stroke="#000" stroke-width="1.7"/>
<text transform="translate(623.0,618.4) scale(0.93,1)" font-size="22.3" font-weight="bold">5</text>
<line x1="615.2" y1="655.0" x2="610.2" y2="655.0" stroke="#000" stroke-width="1.7"/>
<text transform="translate(623.0,662.9) scale(0.93,1)" font-size="22.3" font-weight="bold">4</text>
<line x1="615.2" y1="699.6" x2="610.2" y2="699.6" stroke="#000" stroke-width="1.7"/>
<text transform="translate(623.0,707.5) scale(0.93,1)" font-size="22.3" font-weight="bold">3</text>
<line x1="615.2" y1="744.1" x2="610.2" y2="744.1" stroke="#000" stroke-width="1.7"/>
<text transform="translate(623.0,752.0) scale(0.93,1)" font-size="22.3" font-weight="bold">2</text>
<line x1="615.2" y1="788.7" x2="610.2" y2="788.7" stroke="#000" stroke-width="1.7"/>
<text transform="translate(623.0,796.6) scale(0.93,1)" font-size="22.3" font-weight="bold">1</text>
<line x1="615.2" y1="833.2" x2="610.2" y2="833.2" stroke="#000" stroke-width="1.7"/>
<text transform="translate(623.0,841.1) scale(0.93,1)" font-size="22.3" font-weight="bold">0</text>
<line x1="615.2" y1="877.8" x2="610.2" y2="877.8" stroke="#000" stroke-width="1.7"/>
<text transform="translate(623.0,885.7) scale(0.93,1)" font-size="22.3" font-weight="bold">-1</text>
<line x1="615.2" y1="922.3" x2="610.2" y2="922.3" stroke="#000" stroke-width="1.7"/>
<text transform="translate(623.0,930.2) scale(0.93,1)" font-size="22.3" font-weight="bold">-2</text>
<line x1="615.2" y1="966.9" x2="610.2" y2="966.9" stroke="#000" stroke-width="1.7"/>
<text transform="translate(623.0,974.8) scale(0.93,1)" font-size="22.3" font-weight="bold">-3</text>
<line x1="615.2" y1="1011.5" x2="610.2" y2="1011.5" stroke="#000" stroke-width="1.7"/>
<text transform="translate(623.0,1019.4) scale(0.93,1)" font-size="22.3" font-weight="bold">-4</text>
<line x1="615.2" y1="1056.0" x2="610.2" y2="1056.0" stroke="#000" stroke-width="1.7"/>
<text transform="translate(623.0,1063.9) scale(0.93,1)" font-size="22.3" font-weight="bold">-5</text>
<text transform="translate(676.6,838.1) rotate(-90)" font-size="25" font-weight="bold" text-anchor="middle">Bootstrap ratio</text>
</svg></body></html>
